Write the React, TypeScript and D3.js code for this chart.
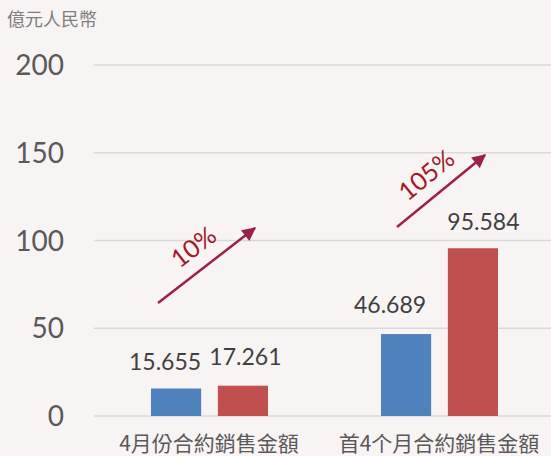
import React from "react";
import * as d3 from "d3";

const categories = ["4月份合約銷售金額", "首4个月合約銷售金額"];
const series2015 = [15.655, 46.689];
const series2016 = [17.261, 95.584];
const growthLabels = ["10%", "105%"];
const yTicks = [0, 50, 100, 150, 200];
const unitLabel = "億元人民幣";

const W = 551;
const H = 456;
const BG = "#f9f4f4";
const BLUE = "#4f81bd";
const RED = "#c0504d";
const ARROW = "#9b2245";
const NUM_FONT = "Lato, 'Open Sans', sans-serif";
const CJK_FONT = "'Noto Sans CJK TC', 'Noto Sans CJK SC', sans-serif";
// manual label nudges (layout), [category][series]
const LABEL_NUDGE = [[[-11, 19], [2.5, 21]], [[-16, 21], [10.5, 18]]];

export default function App() {
  const y = d3.scaleLinear().domain([0, 200]).range([416, 65]);
  const x0 = d3.scaleBand<string>().domain(categories).range([94.5, 554.5]);
  const x1 = d3.scaleBand<string>().domain(["a", "b"]).range([0, 117]).paddingInner(0.25);
  const groupOffset = (x0.bandwidth() - 117) / 2;

  const arrows = [
    { x1: 158, y1: 303, x2: 255, y2: 228, tx: 195, ty: 249 },
    { x1: 397, y1: 227, x2: 485, y2: 155, tx: 428, ty: 177 },
  ];

  return (
    <svg width={W} height={H} style={{ position: "absolute", left: 0, top: 0, background: BG }}>
      <defs>
        <marker id="ah" viewBox="0 0 10 10" refX="9" refY="5" markerWidth="6" markerHeight="5.5" orient="auto" markerUnits="strokeWidth">
          <path d="M0,0 L10,5 L0,10 z" fill={ARROW} />
        </marker>
      </defs>
      <rect x={0} y={0} width={W} height={H} fill={BG} />
      <text x={7} y={26} fontFamily={CJK_FONT} fontSize={18} fill="#7f7f7f">{unitLabel}</text>
      {yTicks.map((t) => (
        <g key={t}>
          <line x1={94} x2={W} y1={y(t)} y2={y(t)} stroke="#d9d9d9" strokeWidth={1.5} />
          <text x={64} y={y(t)} dy="0.36em" textAnchor="end" fontFamily={NUM_FONT} fontSize={28} fill="#595959">{t}</text>
        </g>
      ))}
      {categories.map((c, i) => {
        const gx = (x0(c) as number) + groupOffset;
        const vals = [series2015[i], series2016[i]];
        return (
          <g key={c}>
            {vals.map((v, j) => {
              const bx = gx + (x1(j === 0 ? "a" : "b") as number);
              const [nx, ny] = LABEL_NUDGE[i][j];
              return (
                <g key={j}>
                  <rect x={bx} y={y(v)} width={x1.bandwidth()} height={y(0) - y(v)} fill={j === 0 ? BLUE : RED} />
                  <text x={bx + x1.bandwidth() / 2 + nx} y={y(v) - ny} textAnchor="middle" fontFamily={NUM_FONT} fontSize={23} fill="#404040">{v.toFixed(3)}</text>
                </g>
              );
            })}
            <text x={(x0(c) as number) + x0.bandwidth() / 2 - 0.5} y={451} textAnchor="middle" fontFamily={CJK_FONT} fontSize={21} fill="#595959">{c}</text>
          </g>
        );
      })}
      {arrows.map((a, i) => {
        const ang = (Math.atan2(a.y2 - a.y1, a.x2 - a.x1) * 180) / Math.PI;
        return (
          <g key={i}>
            <line x1={a.x1} y1={a.y1} x2={a.x2} y2={a.y2} stroke={ARROW} strokeWidth={2.5} markerEnd="url(#ah)" />
            <text x={a.tx} y={a.ty} transform={`rotate(${ang} ${a.tx} ${a.ty})`} textAnchor="middle" dominantBaseline="middle" fontFamily={NUM_FONT} fontSize={25} fill="#a0192b">{growthLabels[i]}</text>
          </g>
        );
      })}
    </svg>
  );
}
